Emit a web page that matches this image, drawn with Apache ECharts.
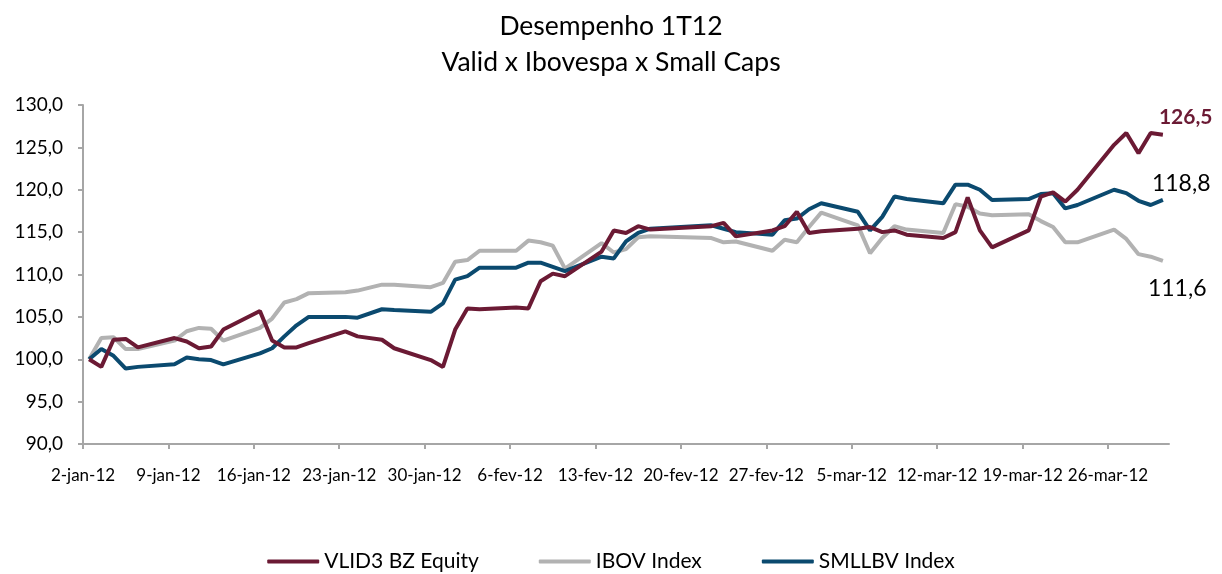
<!DOCTYPE html>
<html>
<head>
<meta charset="utf-8">
<script src="https://cdn.jsdelivr.net/npm/echarts@6/dist/echarts.min.js"></script>
<style>
  html, body { margin: 0; padding: 0; background: #fff; }
  #chart { width: 1222px; height: 574px; }
</style>
</head>
<body>
<div id="chart"></div>
<script>
  // pregões do 1T12 (sem 25-jan e carnaval)
  var dates = [
    '2012-01-02','2012-01-03','2012-01-04','2012-01-05','2012-01-06',
    '2012-01-09','2012-01-10','2012-01-11','2012-01-12','2012-01-13',
    '2012-01-16','2012-01-17','2012-01-18','2012-01-19','2012-01-20',
    '2012-01-23','2012-01-24','2012-01-26','2012-01-27',
    '2012-01-30','2012-01-31','2012-02-01','2012-02-02','2012-02-03',
    '2012-02-06','2012-02-07','2012-02-08','2012-02-09','2012-02-10',
    '2012-02-13','2012-02-14','2012-02-15','2012-02-16','2012-02-17',
    '2012-02-22','2012-02-23','2012-02-24',
    '2012-02-27','2012-02-28','2012-02-29','2012-03-01','2012-03-02',
    '2012-03-05','2012-03-06','2012-03-07','2012-03-08','2012-03-09',
    '2012-03-12','2012-03-13','2012-03-14','2012-03-15','2012-03-16',
    '2012-03-19','2012-03-20','2012-03-21','2012-03-22','2012-03-23',
    '2012-03-26','2012-03-27','2012-03-28','2012-03-29','2012-03-30'
  ];

  var vlid3 = [
    100.0, 99.1, 102.3, 102.4, 101.4,
    102.5, 102.1, 101.3, 101.5, 103.5,
    105.7, 102.2, 101.4, 101.4, 101.9,
    103.3, 102.7, 102.3, 101.3,
    99.9, 99.1, 103.5, 106.0, 105.9,
    106.1, 106.0, 109.2, 110.1, 109.8,
    112.7, 115.2, 114.9, 115.7, 115.3,
    115.7, 116.1, 114.5,
    115.2, 115.7, 117.4, 114.9, 115.1,
    115.4, 115.6, 115.0, 115.2, 114.7,
    114.3, 115.0, 119.1, 115.2, 113.2,
    115.2, 119.2, 119.7, 118.6, 120.0,
    125.3, 126.7, 124.3, 126.7, 126.5
  ];

  var ibov = [
    100.0, 102.5, 102.6, 101.2, 101.2,
    102.2, 103.3, 103.7, 103.6, 102.2,
    103.7, 104.8, 106.7, 107.1, 107.8,
    107.9, 108.1, 108.8, 108.8,
    108.5, 109.0, 111.5, 111.7, 112.8,
    112.8, 114.0, 113.8, 113.4, 110.7,
    113.7, 112.6, 113.0, 114.4, 114.5,
    114.3, 113.8, 113.9,
    112.8, 114.1, 113.8, 115.6, 117.3,
    115.8, 112.5, 114.3, 115.7, 115.3,
    114.9, 118.3, 118.0, 117.2, 117.0,
    117.1, 116.3, 115.6, 113.8, 113.8,
    115.3, 114.2, 112.4, 112.1, 111.6
  ];

  var smllbv = [
    100.0, 101.2, 100.4, 98.9, 99.1,
    99.4, 100.2, 100.0, 99.9, 99.4,
    100.7, 101.3, 102.7, 104.0, 105.0,
    105.0, 104.9, 105.9, 105.8,
    105.6, 106.6, 109.4, 109.8, 110.8,
    110.8, 111.4, 111.4, 110.9, 110.4,
    112.1, 111.9, 113.9, 114.9, 115.4,
    115.8, 115.4, 115.0,
    114.7, 116.4, 116.6, 117.7, 118.4,
    117.4, 115.2, 116.8, 119.2, 118.9,
    118.4, 120.6, 120.6, 120.0, 118.8,
    118.9, 119.5, 119.6, 117.8, 118.2,
    120.0, 119.6, 118.7, 118.2, 118.8
  ];

  var meses = ['jan', 'fev', 'mar', 'abr'];
  var dayMs = 86400000;
  var t0 = Date.UTC(2012, 0, 2);

  // dia corrido desde 2-jan, ponto no meio do dia
  function dayIndex(s) {
    var p = s.split('-');
    return (Date.UTC(+p[0], +p[1] - 1, +p[2]) - t0) / dayMs;
  }
  function pairs(vals) {
    return dates.map(function (d, i) { return [dayIndex(d) + 0.5, vals[i]]; });
  }
  function fmtNum(v) { return v.toFixed(1).replace('.', ','); }

  var font = 'Lato, "Open Sans", sans-serif';

  var myChart = echarts.init(document.getElementById('chart'));
  myChart.setOption({
    animation: false,
    textStyle: { fontFamily: font },
    title: {
      text: 'Desempenho 1T12\nValid x Ibovespa x Small Caps',
      left: 'center',
      top: 3,
      textStyle: { fontSize: 26.5, fontWeight: 'normal', color: '#000', lineHeight: 36, fontFamily: font }
    },
    legend: {
      top: 546,
      left: 'center',
      icon: 'roundRect',
      itemWidth: 52,
      itemHeight: 4,
      itemGap: 60,
      textStyle: { fontSize: 21, color: '#000', fontFamily: font },
      data: ['VLID3 BZ Equity', 'IBOV Index', 'SMLLBV Index']
    },
    grid: { left: 83, right: 53, top: 105, bottom: 130 },
    xAxis: {
      type: 'value',
      min: 0,
      max: 89,
      interval: 7,
      splitLine: { show: false },
      axisLine: { lineStyle: { color: '#a6a6a6', width: 2 } },
      axisTick: { length: 5, lineStyle: { color: '#a6a6a6', width: 2 } },
      axisLabel: {
        margin: 23,
        fontSize: 17,
        color: '#000',
        showMaxLabel: false,
        formatter: function (v) {
          if (v % 7 !== 0) return '';
          var d = new Date(t0 + v * dayMs);
          return d.getUTCDate() + '-' + meses[d.getUTCMonth()] + '-12';
        }
      }
    },
    yAxis: {
      type: 'value',
      min: 90,
      max: 130,
      interval: 5,
      splitLine: { show: false },
      axisLine: { show: true, lineStyle: { color: '#a6a6a6', width: 2 } },
      axisTick: { show: true, length: 5, lineStyle: { color: '#a6a6a6', width: 2 } },
      axisLabel: { margin: 20, fontSize: 19, color: '#000', formatter: fmtNum }
    },
    series: [
      {
        name: 'IBOV Index',
        type: 'line',
        data: pairs(ibov),
        showSymbol: false,
        color: '#b2b2b2',
        lineStyle: { width: 4 },
        endLabel: {
          show: true, formatter: function (p) { return fmtNum(p.value[1]); },
          fontSize: 23, color: '#000', offset: [-23, 28]
        }
      },
      {
        name: 'SMLLBV Index',
        type: 'line',
        data: pairs(smllbv),
        showSymbol: false,
        color: '#0b4a6f',
        lineStyle: { width: 4 },
        endLabel: {
          show: true, formatter: function (p) { return fmtNum(p.value[1]); },
          fontSize: 23, color: '#000', offset: [-19, -16]
        }
      },
      {
        name: 'VLID3 BZ Equity',
        type: 'line',
        data: pairs(vlid3),
        showSymbol: false,
        color: '#6b1a34',
        lineStyle: { width: 4 },
        endLabel: {
          show: true, formatter: function (p) { return fmtNum(p.value[1]); },
          fontSize: 21, fontWeight: 'bold', color: '#6b1a34', offset: [-12, -17]
        }
      }
    ]
  });
</script>
</body>
</html>
